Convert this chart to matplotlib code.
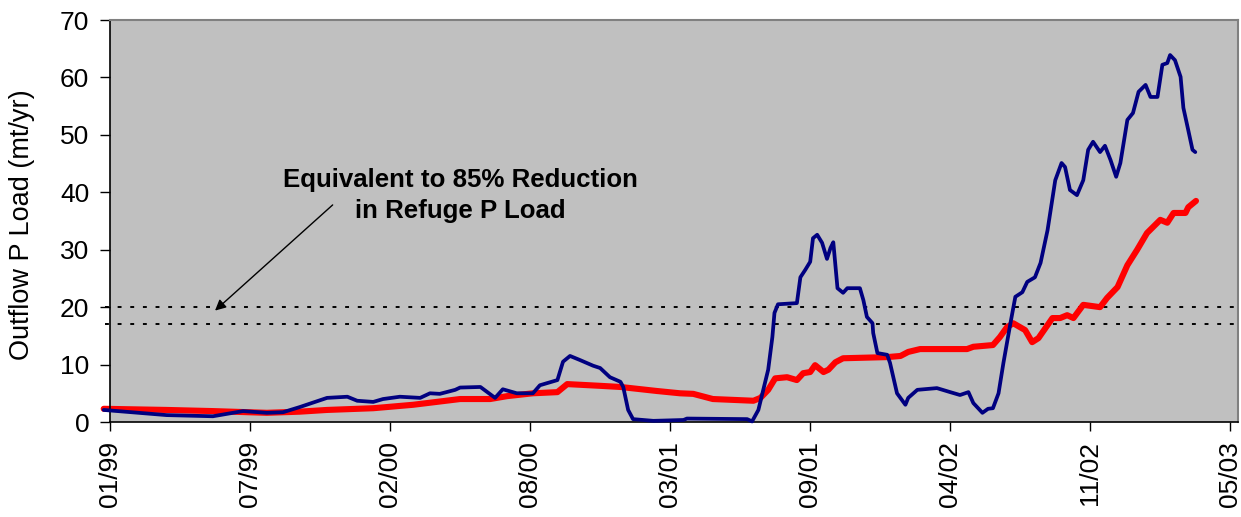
import numpy as np
import matplotlib
matplotlib.use("Agg")
import matplotlib.pyplot as plt
import matplotlib.dates as mdates

plt.rcParams['font.family'] = ['Liberation Sans', 'DejaVu Sans']

start_date = np.datetime64('1999-01-01')

# Outflow P load (navy) -- days after 1999-01-01, mt/yr
blue_days = [-9, 81, 147, 190, 224, 247, 271, 310, 339, 353, 376, 390, 414, 443, 457, 471,
             493, 500, 529, 550, 561, 581, 604, 614, 639, 647, 657, 671, 690, 700, 714, 729,
             733, 740, 747, 776, 819, 824, 910, 917, 926, 933, 940, 946, 949, 954, 981, 986,
             993, 1000, 1004, 1010, 1017, 1024, 1029, 1033, 1039, 1047, 1053, 1071, 1076,
             1081, 1089, 1090, 1096, 1110, 1114, 1124, 1136, 1140, 1153, 1181, 1200, 1214,
             1226, 1233, 1246, 1254, 1261, 1269, 1276, 1286, 1293, 1303, 1310, 1321, 1329,
             1339, 1350, 1359, 1364, 1371, 1381, 1390, 1397, 1404, 1414, 1421, 1429, 1437,
             1443, 1453, 1461, 1469, 1479, 1486, 1496, 1503, 1510, 1514, 1521, 1529, 1533,
             1540, 1546, 1550]
blue_vals = [2.1, 1.2, 1.0, 1.9, 1.6, 1.7, 2.6, 4.2, 4.4, 3.7, 3.5, 4.0, 4.4, 4.2, 5.0, 4.9,
             5.6, 6.0, 6.1, 4.2, 5.7, 5.0, 5.0, 6.4, 7.3, 10.5, 11.5, 10.8, 9.8, 9.4, 7.8, 7.0,
             6.1, 2.1, 0.5, 0.2, 0.35, 0.6, 0.5, 0.1, 2.1, 5.6, 9.1, 14.8, 19.0, 20.5, 20.7, 25.2,
             26.5, 27.9, 32.0, 32.6, 31.2, 28.4, 30.3, 31.3, 23.3, 22.5, 23.3, 23.3, 21.2,
             18.3, 17.2, 15.5, 12.0, 11.7, 10.3, 5.0, 3.0, 4.2, 5.6, 5.9, 5.2, 4.7,
             5.2, 3.3, 1.6, 2.3, 2.4, 5.0, 10.3, 17.2, 21.8, 22.6, 24.4, 25.2, 27.7,
             33.4, 42.1, 45.1, 44.4, 40.4, 39.5, 42.1, 47.4, 48.8, 47.0, 48.1, 45.6, 42.7,
             45.1, 52.6, 53.8, 57.5, 58.7, 56.6, 56.6, 62.2, 62.5, 63.9, 63.0, 60.1, 54.7,
             50.8, 47.4, 47.0]

# Red series -- days after 1999-01-01, mt/yr
red_days = [-9, 81, 147, 224, 271, 310, 376, 433, 500, 543, 567, 604, 639, 653, 700, 729,
            781, 814, 833, 861, 919, 929, 940, 950, 967, 981, 990, 1000, 1007, 1019, 1026,
            1036, 1047, 1110, 1129, 1140, 1157, 1224, 1233, 1261, 1271, 1281, 1290, 1307,
            1317, 1326, 1346, 1357, 1367, 1376, 1390, 1414, 1424, 1439, 1453, 1467, 1481,
            1500, 1510, 1519, 1536, 1540, 1551]
red_vals = [2.3, 2.1, 1.9, 1.6, 1.8, 2.1, 2.4, 3.0, 4.0, 4.0, 4.5, 5.0, 5.2, 6.6, 6.3, 6.1,
            5.4, 5.0, 4.9, 4.0, 3.7, 4.2, 5.6, 7.6, 7.8, 7.3, 8.5, 8.7, 9.9, 8.7, 9.1,
            10.4, 11.1, 11.3, 11.5, 12.2, 12.7, 12.7, 13.1, 13.4, 14.8, 16.5, 17.2, 16.0,
            13.9, 14.6, 18.1, 18.1, 18.6, 18.1, 20.4, 20.0, 21.6, 23.5, 27.3, 30.0, 32.9,
            35.2, 34.7, 36.4, 36.4, 37.4, 38.5]

target_levels = [17, 20]
tick_dates = ['1999-01-01', '1999-07-20', '2000-02-05', '2000-08-23', '2001-03-11',
              '2001-09-27', '2002-04-15', '2002-11-01', '2003-05-20']
y_ticks = [0, 10, 20, 30, 40, 50, 60, 70]
annotation_text = "Equivalent to 85% Reduction\nin Refuge P Load"
ylabel_text = "Outflow P Load (mt/yr)"


def to_dates(days):
    return start_date + np.array(days).astype('timedelta64[D]')


fig = plt.figure(figsize=(12.41, 5.17), dpi=100)
ax = fig.add_axes([110 / 1241, 95 / 517, 1128 / 1241, 402 / 517])
ax.set_facecolor('#C0C0C0')

x_left = start_date
x_right = start_date + np.timedelta64(1611, 'D')
ax.set_xlim(x_left, x_right)
ax.set_ylim(0, 70)

for lvl in target_levels:
    ax.plot(to_dates([-7, 1660]), [lvl, lvl], color='black', lw=1.4,
            dashes=(2, 4.5), clip_on=False, zorder=1)

ax.plot(to_dates(red_days), red_vals, color='#FF0000', lw=4.4, clip_on=False,
        zorder=2, solid_joinstyle='round', solid_capstyle='round')
ax.plot(to_dates(blue_days), blue_vals, color='#000080', lw=2.7, clip_on=False,
        zorder=3, solid_joinstyle='round', solid_capstyle='round')

ax.set_xticks([np.datetime64(d) for d in tick_dates])
ax.xaxis.set_major_formatter(mdates.DateFormatter('%m/%y'))
ax.set_yticks(y_ticks)
ax.tick_params(axis='x', direction='out', length=6.5, width=1, labelsize=19,
               labelrotation=90, pad=7)
ax.tick_params(axis='y', direction='out', length=7, width=1, labelsize=19, pad=8)

for s in ['left', 'bottom']:
    ax.spines[s].set_color('black')
    ax.spines[s].set_linewidth(1.2)
for s in ['top', 'right']:
    ax.spines[s].set_color('#808080')
    ax.spines[s].set_linewidth(1.5)

ax.set_ylabel(ylabel_text, fontsize=19.5)
ax.yaxis.set_label_coords((35 - 110) / 1128, 0.49)

ax.text(start_date + np.timedelta64(500, 'D'), 39.4, annotation_text,
        ha='center', va='center', fontsize=18.6, fontweight='bold',
        linespacing=1.38, zorder=5)
ax.annotate('', xy=(start_date + np.timedelta64(150, 'D'), 19.4),
            xytext=(start_date + np.timedelta64(318, 'D'), 37.8),
            arrowprops=dict(arrowstyle='-|>', color='black', lw=1.0,
                            mutation_scale=16, shrinkA=0, shrinkB=0),
            zorder=5)

fig.savefig('out.png', dpi=100, facecolor='white')
